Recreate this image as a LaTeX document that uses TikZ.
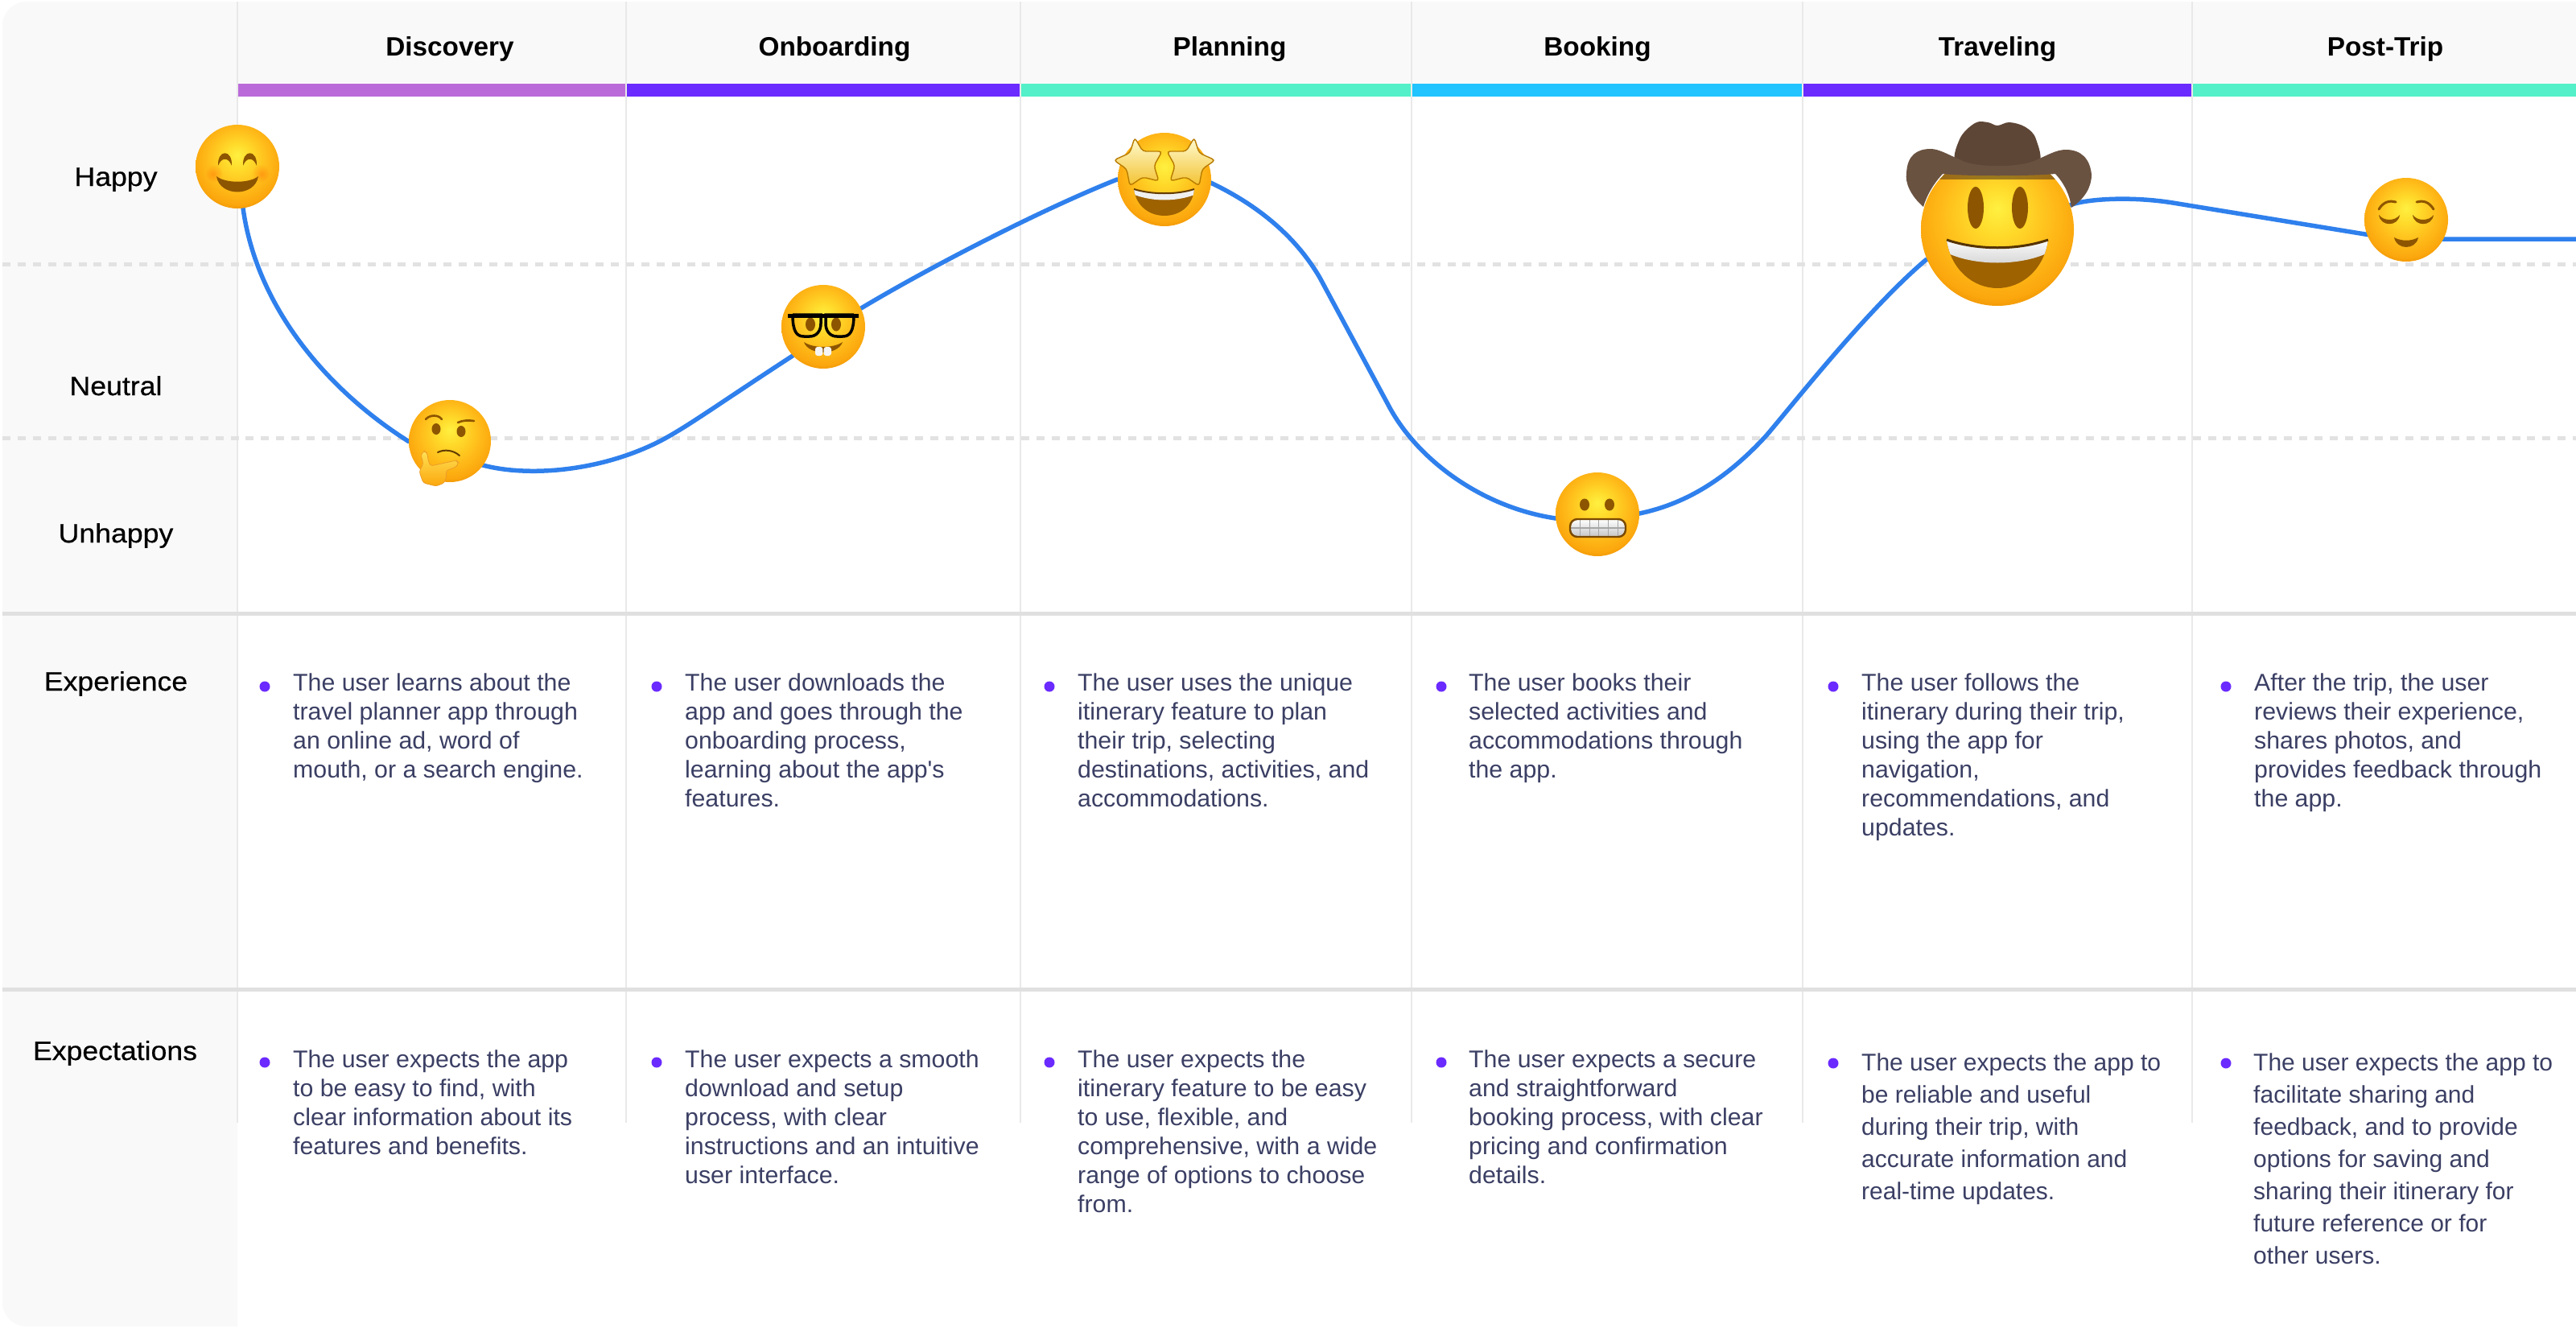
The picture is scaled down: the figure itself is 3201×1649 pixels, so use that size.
\documentclass[tikz,border=0pt]{standalone}
\usepackage{fontspec}
\setmainfont{Liberation Sans}
\newfontfamily\bodyf[FakeStretch=1.01]{Liberation Sans}
\newfontfamily\tightf[FakeStretch=1.0]{Liberation Sans}
\newfontfamily\labelf[FakeStretch=1.08,FakeBold=0.5]{Liberation Sans}
\newfontfamily\headf[FakeStretch=1.01]{Liberation Sans}
\definecolor{panelc}{HTML}{F9F9F9}
\definecolor{gridc}{HTML}{E9E9E9}
\definecolor{rulec}{HTML}{E0E0E0}
\definecolor{dashc}{HTML}{E2E2E2}
\definecolor{curvec}{HTML}{2F80ED}
\definecolor{textc}{HTML}{3B3F64}
\definecolor{bulletc}{HTML}{6B2AFF}
\definecolor{stripa}{HTML}{BB6BD9}
\definecolor{stripb}{HTML}{6B2AFF}
\definecolor{stripc}{HTML}{53F0C9}
\definecolor{stripd}{HTML}{21C4FF}
\definecolor{fA}{HTML}{FFF040}
\definecolor{fB}{HTML}{FFDA2B}
\definecolor{fC}{HTML}{FFBC1A}
\definecolor{fD}{HTML}{FBA70D}
\definecolor{fE}{HTML}{E98A00}
\definecolor{featc}{HTML}{8E5500}
\definecolor{mouthc}{HTML}{9E6200}
\definecolor{starA}{HTML}{FFFBD2}
\definecolor{starB}{HTML}{F3C230}
\definecolor{starC}{HTML}{B87B00}
\definecolor{hatA}{HTML}{5E4636}
\definecolor{hatB}{HTML}{A88F78}
\definecolor{hatC}{HTML}{6A5241}
\definecolor{hatD}{HTML}{3F2E20}
\pgfdeclareradialshading{emojiface}{\pgfpoint{0bp}{7bp}}{color(0bp)=(fA); color(8bp)=(fB); color(18bp)=(fC); color(26bp)=(fD); color(31bp)=(fE); color(50bp)=(fE)}
\tikzset{
  headtxt/.style={font=\headf\bfseries\fontsize{33}{40}\selectfont,text=black,anchor=base,inner sep=0pt},
  sidetxt/.style={font=\labelf\fontsize{33}{40}\selectfont,text=black,anchor=base,inner sep=0pt},
  bodytxt/.style={font=\bodyf\fontsize{30}{36}\selectfont,text=textc,anchor=base west,align=left,inner sep=0pt},
  tighttxt/.style={font=\tightf\fontsize{30}{40}\selectfont,text=textc,anchor=base west,align=left,inner sep=0pt},
  bullet/.style={circle,fill=bulletc,minimum size=13pt,inner sep=0pt},
  gridline/.style={draw=gridc,line width=1.6pt},
  thickrule/.style={draw=rulec,line width=5pt},
  dashrule/.style={draw=dashc,line width=5pt,dash pattern=on 10pt off 8.9pt},
  journey/.style={draw=curvec,line width=5.5pt},
}
\newcommand{\faceball}[1]{\shade[shading=emojiface] (0,0) circle[radius=#1];}
\begin{document}
\begin{tikzpicture}[x=1pt,y=-1pt]
\useasboundingbox (0,0) rectangle (3201,1649);
\fill[white] (0,0) rectangle (3201,1649);
% panels
\fill[panelc] (295,2) [rounded corners=30pt] -- (3,2) -- (3,1648) [sharp corners] -- (295,1648) -- cycle;
\fill[panelc] (295,2) rectangle (3201,104);
% strips
\fill[stripa] (295,104) rectangle (778,120);
\fill[stripb] (778,104) rectangle (1268,120);
\fill[stripc] (1268,104) rectangle (1754,120);
\fill[stripd] (1754,104) rectangle (2240,120);
\fill[stripb] (2240,104) rectangle (2724,120);
\fill[stripc] (2724,104) rectangle (3201,120);
% grid
\foreach \gx/\gn in {295/a,778/b,1268/c,1754/d,2240/e,2724/f}{
  \coordinate (gt\gn) at (\gx,2);
  \coordinate (gb\gn) at (\gx,1395);
  \draw[gridline] (gt\gn) -- (gb\gn);
}
\coordinate (ra) at (3,328); \coordinate (rb) at (3201,328);
\coordinate (rc) at (3,544); \coordinate (rd) at (3201,544);
\coordinate (re) at (3,762); \coordinate (rf) at (3201,762);
\coordinate (rg) at (3,1229); \coordinate (rh) at (3201,1229);
\draw[dashrule] (ra) -- (rb);
\draw[dashrule] (rc) -- (rd);
\draw[thickrule] (re) -- (rf);
\draw[thickrule] (rg) -- (rh);
% headers
\node[headtxt] (hA) at (559,69) {Discovery};
\node[headtxt] (hB) at (1037,69) {Onboarding};
\node[headtxt] (hC) at (1528,69) {Planning};
\node[headtxt] (hD) at (1985,69) {Booking};
\node[headtxt] (hE) at (2482,69) {Traveling};
\node[headtxt] (hF) at (2964,69) {Post-Trip};
% side labels
\node[sidetxt] (sA) at (144,231) {Happy};
\node[sidetxt] (sB) at (144,491) {Neutral};
\node[sidetxt] (sC) at (144,674) {Unhappy};
\node[sidetxt] (sD) at (144,858) {Experience};
\node[sidetxt] (sE) at (143,1317) {Expectations};
% curve
\coordinate (smile) at (295,207);
\coordinate (think) at (559,548);
\coordinate (nerd) at (1023,406);
\coordinate (star) at (1447,223);
\coordinate (grim) at (1985,639);
\coordinate (cow) at (2482,285);
\coordinate (rel) at (2990,273);
\coordinate (cend) at (3201,297);
\draw[journey] (smile) -- (300,240) .. controls (310,370) and (400,480) .. (507,548) -- (think);
\draw[journey] (think) -- (590,575) .. controls (640,592) and (730,590) .. (810,553) .. controls (845,537) and (885,507) .. (985,442) -- (nerd);
\draw[journey] (nerd) -- (1070,383) .. controls (1150,335) and (1290,262) .. (1388,223) -- (star);
\draw[journey] (star) -- (1500,225) .. controls (1550,248) and (1605,285) .. (1640,345) -- (1725,503) .. controls (1760,570) and (1840,630) .. (1933,644) -- (grim);
\draw[journey] (grim) -- (2037,638) .. controls (2100,625) and (2150,590) .. (2195,541) .. controls (2230,500) and (2320,385) .. (2393,323) -- (cow);
\draw[journey] (cow) -- (2578,253) .. controls (2600,247) and (2650,244) .. (2700,252) -- (2945,292) -- (rel);
\draw[journey] (rel) -- (3030,297) -- (cend);
% smile emoji
\begin{scope}[shift={(smile)}]
\faceball{52}
\shade[inner color=orange!70!red,outer color=fC,opacity=.35] (-30,9) circle[radius=11];
\shade[inner color=orange!70!red,outer color=fC,opacity=.35] (30,9) circle[radius=11];
\fill[featc] (-24,-1) .. controls (-25,-22) and (-6,-22) .. (-7,-1) .. controls (-11,-12) and (-20,-12) .. cycle;
\fill[featc] (7,-1) .. controls (6,-22) and (25,-22) .. (24,-1) .. controls (20,-12) and (11,-12) .. cycle;
\fill[featc] (-26,12) .. controls (-15,21) and (15,21) .. (26,12) .. controls (22,38) and (-22,38) .. cycle;
\end{scope}
% thinking emoji
\begin{scope}[shift={(think)}]
\faceball{51}
\fill[featc] (-17,-15) ellipse[x radius=5.5,y radius=7];
\fill[featc] (14,-12) ellipse[x radius=5.5,y radius=7];
\draw[featc,line width=2.6pt,line cap=round] (-30,-27) .. controls (-25,-33) and (-14,-33) .. (-10,-27);
\draw[featc,line width=2.6pt,line cap=round] (10,-23) .. controls (16,-26) and (24,-26) .. (30,-25);
\draw[featc!70!black,line width=2pt,line cap=round] (-15,14) .. controls (-7,10) and (4,11) .. (12,18);
\shadedraw[top color=fB!80!white,bottom color=fD,draw=fE!85!white,line width=.8pt,rounded corners=3pt]
 (-36,17) -- (-32,12) -- (-28,15) -- (-27,24) -- (-24,31) -- (8,24) -- (11,27) -- (8,32) -- (-5,37) -- (-4,43) -- (-7,52) -- (-17,56) -- (-33,52) -- (-38,38) -- (-33,28) -- cycle;
\end{scope}
% nerd emoji
\begin{scope}[shift={(nerd)}]
\faceball{52}
\fill[featc] (-16,-3) ellipse[x radius=6,y radius=8.5];
\fill[featc] (16,-3) ellipse[x radius=6,y radius=8.5];
\draw[black,line width=3.5pt] (-38,-15) -- (-3,-15) -- (-3,-4) .. controls (-3,6) and (-9,12) .. (-17,12) -- (-24,12) .. controls (-33,12) and (-38,6) .. (-38,-15);
\draw[black,line width=3.5pt] (38,-15) -- (3,-15) -- (3,-4) .. controls (3,6) and (9,12) .. (17,12) -- (24,12) .. controls (33,12) and (38,6) .. (38,-15);
\fill[black] (-44,-16) rectangle (44,-11.5);
\fill[featc] (-24,19) .. controls (-12,27) and (12,27) .. (24,19) .. controls (18,36) and (-18,36) .. cycle;
\fill[white!92!gray,rounded corners=3pt] (-10,25) rectangle (-0.6,36);
\fill[white!92!gray,rounded corners=3pt] (0.6,25) rectangle (10,36);
\end{scope}
% star emoji
\begin{scope}[shift={(star)}]
\faceball{58}
\begin{scope}
\clip (-38,12) .. controls (-15,19) and (15,19) .. (37,12) .. controls (35,34) and (18,45) .. (0,45) .. controls (-18,45) and (-35,34) .. cycle;
\fill[mouthc] (-40,10) rectangle (40,46);
\fill[white!88!gray] (-40,10) -- (40,10) -- (40,18) .. controls (15,28) and (-15,28) .. (-40,18) -- cycle;
\end{scope}
\draw[featc!70!black,line width=2pt] (-38,12) .. controls (-15,19) and (15,19) .. (37,12);
\shadedraw[top color=starA,bottom color=starB,draw=starC,line width=1.4pt,rounded corners=4pt]
 (-37,-52) -- (-27,-35) -- (-3,-35) -- (-13,-17) -- (-7,2) -- (-27,-3) -- (-43,8) -- (-47,-13) -- (-63,-24) -- (-43,-33) -- cycle;
\shadedraw[top color=starA,bottom color=starB,draw=starC,line width=1.4pt,rounded corners=4pt]
 (37,-52) -- (27,-35) -- (3,-35) -- (13,-17) -- (7,2) -- (27,-3) -- (43,8) -- (47,-13) -- (63,-24) -- (43,-33) -- cycle;
\end{scope}
% grimace emoji
\begin{scope}[shift={(grim)}]
\faceball{52}
\fill[featc] (-16,-12) ellipse[x radius=6,y radius=7.5];
\fill[featc] (15,-12) ellipse[x radius=6,y radius=7.5];
\begin{scope}
\clip[rounded corners=9pt] (-34,6) rectangle (35,28);
\shade[top color=white,bottom color=gray!45] (-34,6) rectangle (35,28);
\foreach \tx in {-22,-10,1,13,25}{\draw[gray!70,line width=1pt] (\tx,6) -- (\tx,28);}
\draw[gray!70,line width=1.2pt] (-34,17) -- (35,17);
\end{scope}
\draw[featc!85!black,line width=2.4pt,rounded corners=9pt] (-34,6) rectangle (35,28);
\end{scope}
% cowboy emoji
\begin{scope}[shift={(cow)}]
\faceball{95}
\begin{scope}
\clip (0,0) circle[radius=95];
\fill[black!60!brown,opacity=.55] (-100,-100) rectangle (100,-62);
\end{scope}
\fill[featc] (-27,-27) ellipse[x radius=10,y radius=26];
\fill[featc] (28,-27) ellipse[x radius=10,y radius=26];
\begin{scope}
\clip (-63,13) .. controls (-25,26) and (25,26) .. (63,13) .. controls (58,50) and (30,73) .. (0,73) .. controls (-30,73) and (-58,50) .. cycle;
\fill[mouthc] (-65,10) rectangle (65,75);
\shade[top color=white,bottom color=gray!35] (-65,10) -- (65,10) -- (65,28) .. controls (30,46) and (-30,46) .. (-65,28) -- cycle;
\end{scope}
\draw[featc!60!black,line width=3pt] (-63,13) .. controls (-25,26) and (25,26) .. (63,13);
% hat
\shade[left color=hatA,middle color=hatB,right color=hatA]
  plot[smooth cycle,tension=.6] coordinates {(-50,-80) (-47,-112) (-28,-132) (-12,-133) (0,-129) (15,-133) (35,-127) (48,-112) (50,-80) (0,-70)};
\shade[left color=hatC,middle color=hatD,right color=hatC]
  (-92,-28) .. controls (-108,-42) and (-115,-58) .. (-113,-70) .. controls (-112,-92) and (-100,-100) .. (-83,-100) .. controls (-72,-100) and (-60,-92) .. (-47,-87) .. controls (-30,-76) and (30,-76) .. (50,-87) .. controls (62,-92) and (73,-99) .. (85,-99) .. controls (104,-99) and (115,-88) .. (117,-68) .. controls (117,-52) and (108,-38) .. (92,-27) .. controls (90,-42) and (84,-56) .. (72,-69) .. controls (40,-66) and (-40,-66) .. (-68,-69) .. controls (-80,-56) and (-88,-42) .. cycle;
\end{scope}
% relieved emoji
\begin{scope}[shift={(rel)}]
\faceball{52}
\fill[featc] (-34,-6) .. controls (-28,2) and (-14,2) .. (-8,-6) .. controls (-10,9) and (-32,9) .. cycle;
\fill[featc] (8,-6) .. controls (14,2) and (28,2) .. (34,-6) .. controls (32,9) and (10,9) .. cycle;
\draw[featc,line width=3pt,line cap=round] (-34,-13) .. controls (-28,-23) and (-20,-24) .. (-13,-22);
\draw[featc,line width=3pt,line cap=round] (34,-13) .. controls (28,-23) and (20,-24) .. (13,-22);
\fill[featc] (-15,22) .. controls (-6,27) and (6,27) .. (15,22) .. controls (12,38) and (-12,38) .. cycle;
\end{scope}
% experience row
\foreach \bx/\bn in {329/a,816/b,1304/c,1791/d,2278/e,2766/f}{\node[bullet] (xb\bn) at (\bx,853) {};}
\node[bodytxt] (xa) at (364,966) {The user learns about the\\travel planner app through\\an online ad, word of\\mouth, or a search engine.};
\node[bodytxt] (xb) at (851,1002) {The user downloads the\\app and goes through the\\onboarding process,\\learning about the app's\\features.};
\node[bodytxt] (xc) at (1339,1002) {The user uses the unique\\itinerary feature to plan\\their trip, selecting\\destinations, activities, and\\accommodations.};
\node[bodytxt] (xd) at (1825,966) {The user books their\\selected activities and\\accommodations through\\the app.};
\node[bodytxt] (xe) at (2313,1038) {The user follows the\\itinerary during their trip,\\using the app for\\navigation,\\recommendations, and\\updates.};
\node[bodytxt] (xf) at (2801,1002) {After the trip, the user\\reviews their experience,\\shares photos, and\\provides feedback through\\the app.};
% expectations row
\foreach \bx/\bn in {329/a,816/b,1304/c,1791/d}{\node[bullet] (eb\bn) at (\bx,1320) {};}
\foreach \bx/\bn in {2278/e,2766/f}{\node[bullet] (eb\bn) at (\bx,1321) {};}
\node[bodytxt] (ea) at (364,1434) {The user expects the app\\to be easy to find, with\\clear information about its\\features and benefits.};
\node[bodytxt] (eb) at (851,1470) {The user expects a smooth\\download and setup\\process, with clear\\instructions and an intuitive\\user interface.};
\node[bodytxt] (ec) at (1339,1506) {The user expects the\\itinerary feature to be easy\\to use, flexible, and\\comprehensive, with a wide\\range of options to choose\\from.};
\node[bodytxt] (ed) at (1825,1470) {The user expects a secure\\and straightforward\\booking process, with clear\\pricing and confirmation\\details.};
\node[tighttxt] (ee) at (2313,1490) {The user expects the app to\\be reliable and useful\\during their trip, with\\accurate information and\\real-time updates.};
\node[tighttxt] (ef) at (2800,1570) {The user expects the app to\\facilitate sharing and\\feedback, and to provide\\options for saving and\\sharing their itinerary for\\future reference or for\\other users.};
\end{tikzpicture}
\end{document}
